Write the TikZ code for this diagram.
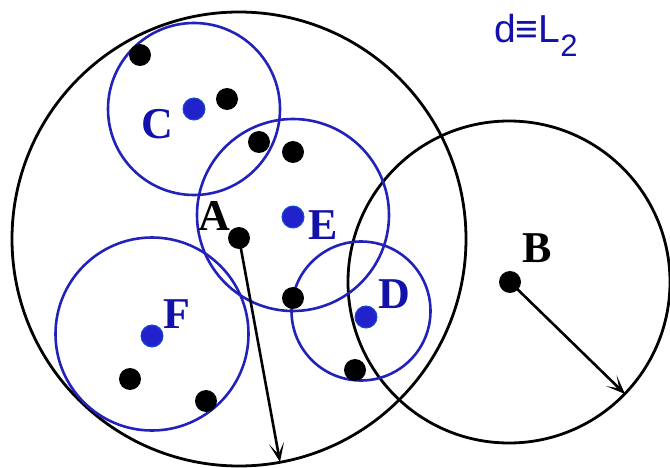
\documentclass[tikz,border=0pt]{standalone}
\usepackage{fontspec}
\setmainfont{Liberation Serif}
\newfontfamily\labsans{Liberation Sans}
\usetikzlibrary{arrows.meta}
\definecolor{circblue}{HTML}{2222BB}
\definecolor{labblue}{HTML}{1212AA}
\definecolor{dotblue}{HTML}{2222CC}
\definecolor{dotrim}{HTML}{1850C8}
\tikzset{
  bigcirc/.style={draw=black,line width=2.8pt},
  smallcirc/.style={draw=circblue,line width=2.6pt},
  bdot/.style={circle,fill=black,inner sep=0pt,minimum size=22pt},
  udot/.style={circle,fill=dotblue,draw=dotrim,line width=1pt,inner sep=0pt,minimum size=22pt},
  blab/.style={anchor=base,inner sep=0pt,text=labblue,font=\fontsize{44}{44}\selectfont\bfseries},
  klab/.style={anchor=base,inner sep=0pt,text=black,font=\fontsize{44}{44}\selectfont\bfseries},
  radarrow/.style={draw=black,line width=2.6pt,-{Stealth[length=19pt,width=15pt,inset=11pt]}}
}
\begin{document}
\begin{tikzpicture}[x=1pt,y=-1pt]
\useasboundingbox (0,0) rectangle (670,468);
% big circles
\draw[bigcirc] (239,239) circle (227);
\draw[bigcirc] (509,282) circle (161);
% blue circles
\draw[smallcirc] (194,109) circle (86);
\draw[smallcirc] (293,215) circle (96);
\draw[smallcirc] (361,311) circle (69.5);
\draw[smallcirc] (152,334) circle (96.5);
% dots
\node[bdot] (A) at (239,238) {};
\node[bdot] (B) at (510,282) {};
\node[bdot] (p1) at (140,55) {};
\node[bdot] (p2) at (227,99) {};
\node[bdot] (p3) at (259,142) {};
\node[bdot] (p4) at (293,152) {};
\node[bdot] (p5) at (293,298) {};
\node[bdot] (p6) at (355,370) {};
\node[bdot] (p7) at (130,379) {};
\node[bdot] (p8) at (206,401) {};
\node[udot] (C) at (194,109) {};
\node[udot] (E) at (293,217) {};
\node[udot] (D) at (366,317) {};
\node[udot] (F) at (152,336) {};
% radius arrows
\coordinate (Aend) at (280,462);
\coordinate (Bend) at (625,394);
\draw[radarrow] (A.center) -- (Aend);
\draw[radarrow] (B.center) -- (Bend);
% labels
\node[blab] (lC) at (157,139) {C};
\node[blab] (lE) at (323,240) {E};
\node[blab] (lD) at (394,308) {D};
\node[blab] (lF) at (177,328) {F};
\node[klab] (lA) at (214,230) {A};
\node[klab] (lB) at (537,262) {B};
\node[anchor=base west,inner sep=0pt,text=labblue] (dL) at (494,43)
  {\labsans\fontsize{39}{39}\selectfont d≡L\raisebox{-14pt}{\fontsize{31}{31}\selectfont 2}};
\end{tikzpicture}
\end{document}
